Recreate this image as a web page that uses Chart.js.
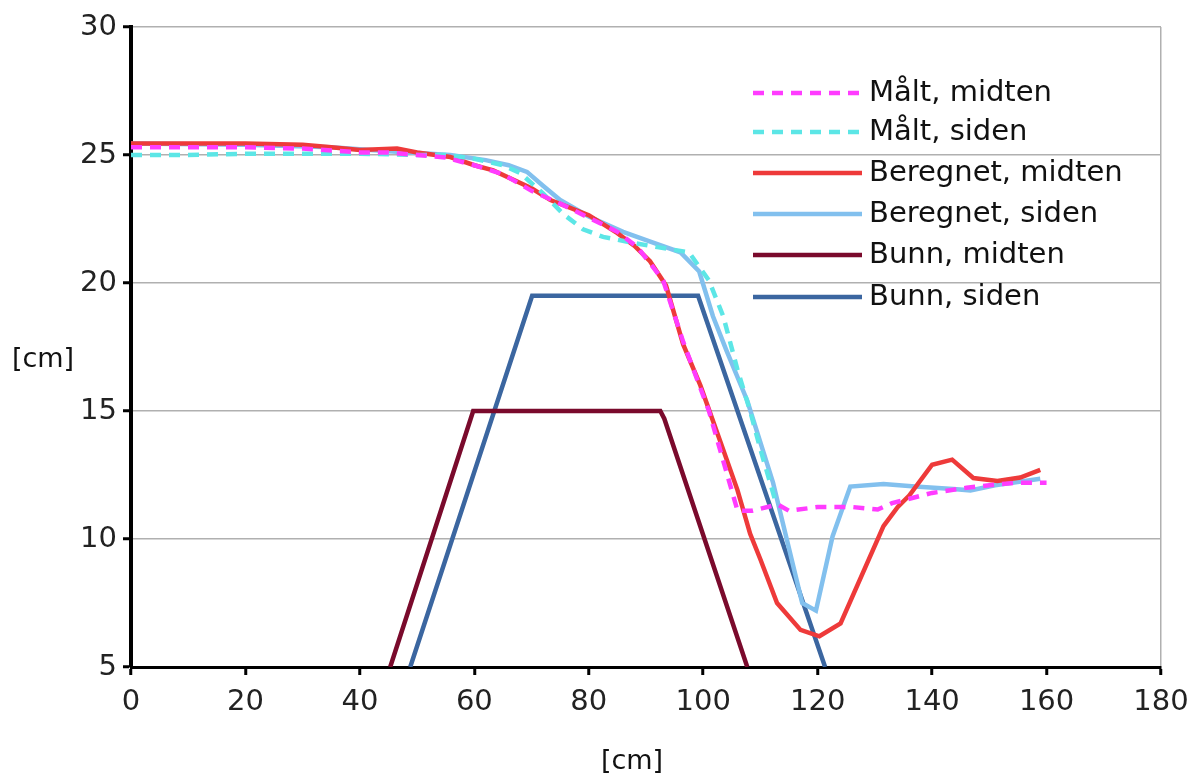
<!DOCTYPE html>
<html>
<head>
<meta charset="utf-8">
<script src="https://cdn.jsdelivr.net/npm/chart.js@4"></script>
<style>
  html, body { margin: 0; padding: 0; background: #fff; }
  #wrap { width: 1192px; height: 778px; }
</style>
</head>
<body>
<div id="wrap"><canvas id="bedChart" width="1192" height="778"></canvas></div>
<script>
// Målt, midten
const maltMidtenX = [0, 10, 20, 30, 40, 45, 50, 55, 60, 65, 70, 75, 80, 85, 88.5, 91.3, 93, 96.5, 101, 106, 108.5, 113, 115, 120, 126, 130.5, 133, 140, 146, 150, 155, 160];
const maltMidtenY = [25.3, 25.3, 25.3, 25.25, 25.1, 25.1, 25.0, 24.9, 24.6, 24.25, 23.6, 23.1, 22.55, 22.0, 21.4, 20.6, 20.1, 17.7, 15.0, 11.1, 11.1, 11.35, 11.1, 11.25, 11.25, 11.15, 11.4, 11.8, 12.0, 12.1, 12.2, 12.2];

// Målt, siden
const maltSidenX = [0, 10, 20, 30, 40, 50, 55, 60, 65, 68, 72, 75.5, 79, 82.5, 87, 92, 97.5, 101, 103.5, 106, 108.2, 110, 112.6];
const maltSidenY = [25.0, 25.0, 25.05, 25.05, 25.05, 25.0, 25.0, 24.85, 24.6, 24.3, 23.5, 22.7, 22.1, 21.8, 21.6, 21.4, 21.2, 20.1, 18.7, 16.6, 15.0, 13.5, 11.5];

// Beregnet, midten
const beregMidtenX = [0, 10, 20, 30, 35, 40, 46.5, 50, 55.8, 60, 63.3, 70, 73.3, 80, 85, 88, 90.7, 93.5, 96.5, 99.5, 103, 106, 108.2, 110, 112.9, 117, 120.3, 124, 131.5, 134, 136, 140, 143.5, 147.2, 151.4, 155.4, 158.9];
const beregMidtenY = [25.45, 25.45, 25.45, 25.4, 25.3, 25.2, 25.25, 25.1, 24.92, 24.6, 24.4, 23.7, 23.24, 22.65, 21.95, 21.45, 20.85, 19.9, 17.6, 16.0, 13.8, 11.9, 10.2, 9.2, 7.5, 6.45, 6.2, 6.7, 10.5, 11.25, 11.7, 12.9, 13.1, 12.38, 12.27, 12.4, 12.7];

// Beregnet, siden
const beregSidenX = [0, 20, 35, 45, 55.8, 62, 66, 69.2, 72, 75, 80, 86, 91, 96, 99.3, 101.7, 104, 107.7, 112.2, 117.3, 119.7, 122.6, 125.7, 131.5, 137, 143.7, 146.7, 151, 158.9];
const beregSidenY = [25.45, 25.4, 25.3, 25.15, 25.0, 24.8, 24.6, 24.34, 23.8, 23.24, 22.6, 22.0, 21.6, 21.2, 20.45, 18.7, 17.4, 15.4, 12.2, 7.5, 7.2, 10.1, 12.05, 12.15, 12.05, 11.95, 11.9, 12.1, 12.35];

// Bunn
const bunnMidtenX = [45.3, 59.8, 92.5, 93.2, 107.7];
const bunnMidtenY = [5, 15, 15, 14.7, 5];
const bunnSidenX = [48.8, 70.1, 99.1, 121.3];
const bunnSidenY = [5, 19.5, 19.5, 5];

const xTicks = [0, 20, 40, 60, 80, 100, 120, 140, 160, 180];
const yTicks = [5, 10, 15, 20, 25, 30];
const axisTitle = "[cm]";

const toPoints = (xs, ys) => xs.map((x, i) => ({ x: x, y: ys[i] }));

const FONT = "'DejaVu Sans', 'Liberation Sans', Arial, sans-serif";

const series = [
    { label: "Målt, midten", xs: maltMidtenX, ys: maltMidtenY, color: "#ff3cff", dash: [11, 8] },
    { label: "Målt, siden", xs: maltSidenX, ys: maltSidenY, color: "#5ce6e6", dash: [11, 8] },
    { label: "Beregnet, midten", xs: beregMidtenX, ys: beregMidtenY, color: "#ee3a3a", dash: [] },
    { label: "Beregnet, siden", xs: beregSidenX, ys: beregSidenY, color: "#82c0ee", dash: [] },
    { label: "Bunn, midten", xs: bunnMidtenX, ys: bunnMidtenY, color: "#7a0a2c", dash: [] },
    { label: "Bunn, siden", xs: bunnSidenX, ys: bunnSidenY, color: "#3b66a0", dash: [] },
];

// legend inside the plot + horizontal axis titles
const extrasPlugin = {
    id: "extras",
    afterDraw(chart) {
        const ctx = chart.ctx;
        ctx.save();
        ctx.font = "29px " + FONT;
        ctx.fillStyle = "#111";
        ctx.textBaseline = "middle";

        const rowY = [93, 132, 173, 214, 255, 297];
        chart.data.datasets.forEach((ds, i) => {
            const y = rowY[i];
            ctx.strokeStyle = ds.borderColor;
            ctx.lineWidth = ds.borderWidth;
            ctx.setLineDash(ds.borderDash || []);
            ctx.beginPath();
            ctx.moveTo(753, y);
            ctx.lineTo(862, y);
            ctx.stroke();
            ctx.setLineDash([]);
            ctx.textAlign = "left";
            ctx.fillText(ds.label, 869, y);
        });

        ctx.font = "27px " + FONT;
        ctx.textAlign = "center";
        ctx.fillText(axisTitle, 43, 360);
        ctx.fillText(axisTitle, 632, 762);
        ctx.restore();
    },
};

new Chart(document.getElementById("bedChart"), {
    type: "line",
    data: {
        datasets: series.map((s) => ({
            label: s.label,
            data: toPoints(s.xs, s.ys),
            borderColor: s.color,
            backgroundColor: s.color,
            borderWidth: 4.5,
            borderDash: s.dash,
            pointRadius: 0,
            tension: 0,
            fill: false,
        })),
    },
    options: {
        responsive: false,
        animation: false,
        layout: { padding: { top: 27, right: 31, left: 0, bottom: 0 } },
        plugins: { legend: { display: false }, tooltip: { enabled: false } },
        scales: {
            x: {
                type: "linear",
                min: 0,
                max: 180,
                afterFit: (scale) => {
                    scale.height = 111;
                    scale.paddingLeft = 0;
                    scale.paddingRight = 0;
                },
                afterBuildTicks: (scale) => { scale.ticks = xTicks.map((v) => ({ value: v })); },
                ticks: { color: "#222", font: { family: FONT, size: 29 }, padding: 10, maxRotation: 0 },
                grid: {
                    color: (c) => (c.tick && c.tick.value === 180 ? "#b0b0b0" : "rgba(0,0,0,0)"),
                    tickColor: "#000",
                    tickLength: 8,
                    tickWidth: 3,
                    lineWidth: 1.5,
                },
                border: { color: "#000", width: 3 },
            },
            y: {
                type: "linear",
                min: 5,
                max: 30,
                afterFit: (scale) => {
                    scale.width = 131;
                    scale.paddingTop = 0;
                    scale.paddingBottom = 0;
                },
                afterBuildTicks: (scale) => { scale.ticks = yTicks.map((v) => ({ value: v })); },
                ticks: { color: "#222", font: { family: FONT, size: 29 }, padding: 6 },
                grid: { color: "#b0b0b0", tickColor: "#000", tickLength: 8, tickWidth: 3, lineWidth: 1.5 },
                border: { color: "#000", width: 4 },
            },
        },
    },
    plugins: [extrasPlugin],
});
</script>
</body>
</html>
